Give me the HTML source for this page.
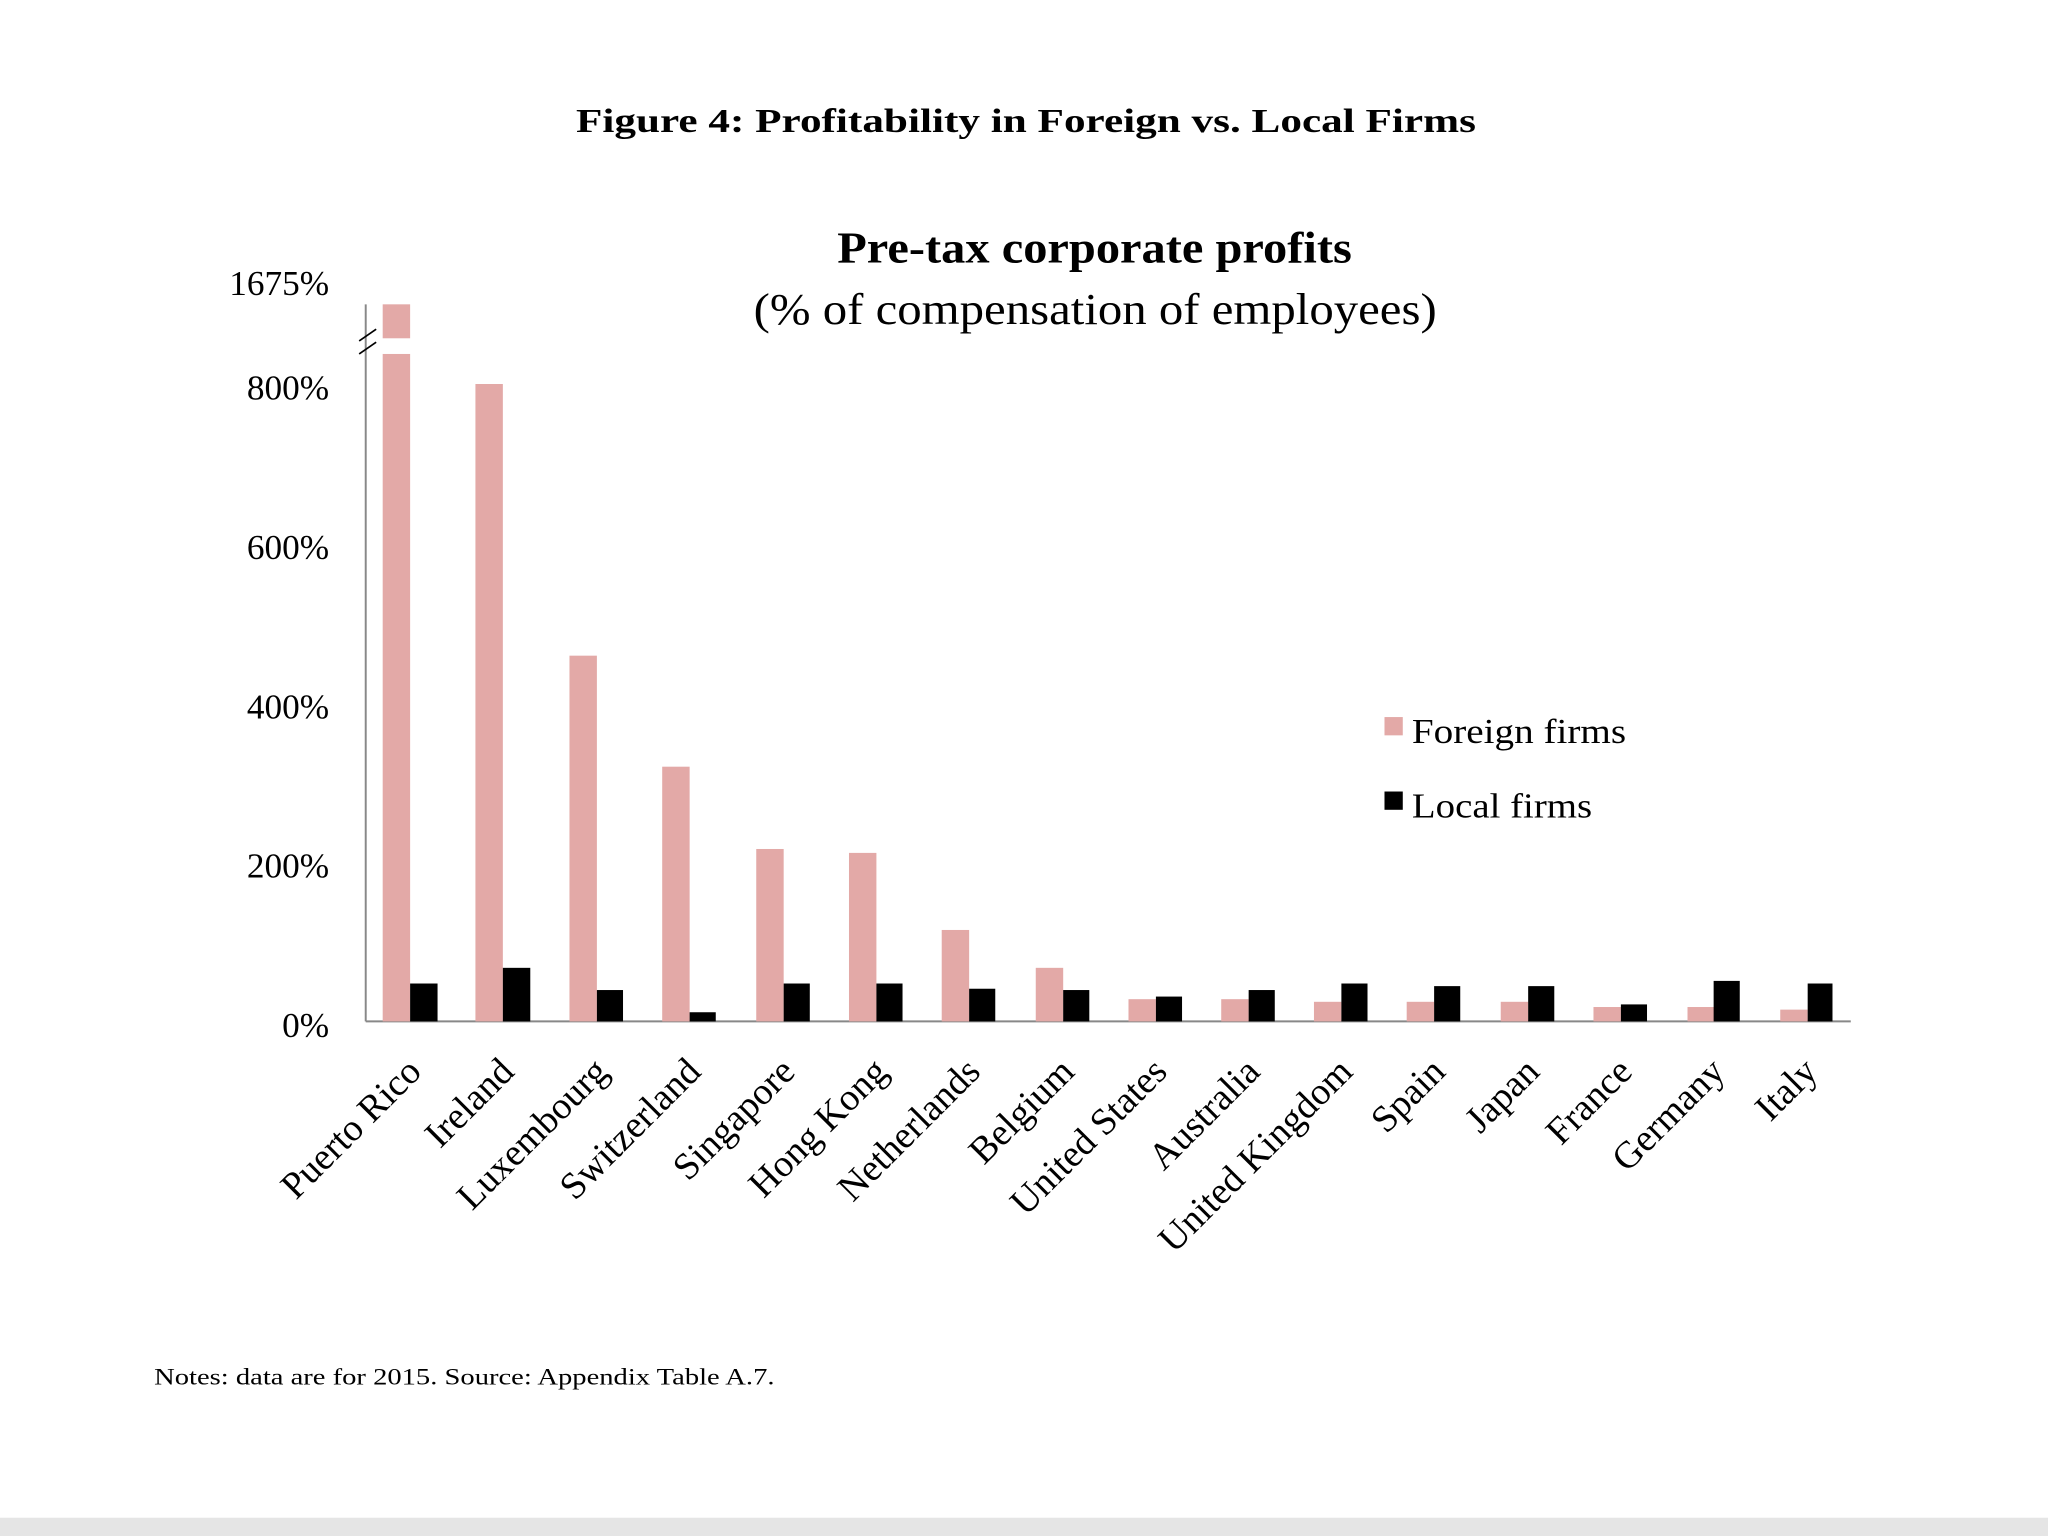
<!DOCTYPE html>
<html><head><meta charset="utf-8"><style>
html,body{margin:0;padding:0;background:#fff;}
svg{display:block;}
text{font-family:"Liberation Serif",serif;fill:#000;}
</style></head><body>
<svg width="2048" height="1536" viewBox="0 0 1568 1176" xmlns="http://www.w3.org/2000/svg">
<rect x="0" y="0" width="1568" height="1176" fill="#fff"/>
<rect x="0" y="1162" width="1568" height="14" fill="#e5e5e5"/>
<text x="441" y="101" font-size="26" font-weight="bold" textLength="689" lengthAdjust="spacingAndGlyphs">Figure 4: Profitability in Foreign vs. Local Firms</text>
<text x="641" y="201" font-size="34" font-weight="bold" textLength="394" lengthAdjust="spacingAndGlyphs">Pre-tax corporate profits</text>
<text x="577" y="248" font-size="34" textLength="523" lengthAdjust="spacingAndGlyphs">(% of compensation of employees)</text>
<g font-size="27" text-anchor="end">
<text x="252" y="226">1675%</text>
<text x="252" y="306">800%</text>
<text x="252" y="428">600%</text>
<text x="252" y="550">400%</text>
<text x="252" y="672">200%</text>
<text x="252" y="794">0%</text>
</g>
<line x1="280" y1="233" x2="280" y2="782" stroke="#888" stroke-width="1.5"/>
<line x1="280" y1="782" x2="1417" y2="782" stroke="#888" stroke-width="1.5"/>
<line x1="275" y1="261" x2="288" y2="252" stroke="#000" stroke-width="1.3"/>
<line x1="275" y1="271" x2="288" y2="262" stroke="#000" stroke-width="1.3"/>
<g fill="#e3a9a7">
<rect x="293" y="233" width="21" height="26"/>
<rect x="293" y="271" width="21" height="511"/>
<rect x="364" y="294" width="21" height="488"/>
<rect x="436" y="502" width="21" height="280"/>
<rect x="507" y="587" width="21" height="195"/>
<rect x="579" y="650" width="21" height="132"/>
<rect x="650" y="653" width="21" height="129"/>
<rect x="721" y="712" width="21" height="70"/>
<rect x="793" y="741" width="21" height="41"/>
<rect x="864" y="765" width="21" height="17"/>
<rect x="935" y="765" width="21" height="17"/>
<rect x="1006" y="767" width="21" height="15"/>
<rect x="1077" y="767" width="21" height="15"/>
<rect x="1149" y="767" width="21" height="15"/>
<rect x="1220" y="771" width="21" height="11"/>
<rect x="1292" y="771" width="21" height="11"/>
<rect x="1363" y="773" width="21" height="9"/>
</g>
<g fill="#000">
<rect x="314" y="753" width="21" height="29"/>
<rect x="385" y="741" width="21" height="41"/>
<rect x="457" y="758" width="20" height="24"/>
<rect x="528" y="775" width="20" height="7"/>
<rect x="600" y="753" width="20" height="29"/>
<rect x="671" y="753" width="20" height="29"/>
<rect x="742" y="757" width="20" height="25"/>
<rect x="814" y="758" width="20" height="24"/>
<rect x="885" y="763" width="20" height="19"/>
<rect x="956" y="758" width="20" height="24"/>
<rect x="1027" y="753" width="20" height="29"/>
<rect x="1098" y="755" width="20" height="27"/>
<rect x="1170" y="755" width="20" height="27"/>
<rect x="1241" y="769" width="20" height="13"/>
<rect x="1312" y="751" width="20" height="31"/>
<rect x="1384" y="753" width="19" height="29"/>
</g>
<rect x="1060" y="549" width="14" height="14" fill="#e3a9a7"/>
<rect x="1060" y="606" width="14" height="14" fill="#000"/>
<text x="1081" y="569" font-size="27" textLength="164" lengthAdjust="spacingAndGlyphs">Foreign firms</text>
<text x="1081" y="626" font-size="27" textLength="138" lengthAdjust="spacingAndGlyphs">Local firms</text>
<g font-size="29" text-anchor="end">
<text transform="translate(324,822) rotate(-45)">Puerto Rico</text>
<text transform="translate(395,822) rotate(-45)">Ireland</text>
<text transform="translate(467,822) rotate(-45)">Luxembourg</text>
<text transform="translate(538,822) rotate(-45)">Switzerland</text>
<text transform="translate(610,822) rotate(-45)">Singapore</text>
<text transform="translate(681,822) rotate(-45)">Hong Kong</text>
<text transform="translate(752,822) rotate(-45)">Netherlands</text>
<text transform="translate(824,822) rotate(-45)">Belgium</text>
<text transform="translate(895,822) rotate(-45)">United States</text>
<text transform="translate(966,822) rotate(-45)">Australia</text>
<text transform="translate(1037,822) rotate(-45)">United Kingdom</text>
<text transform="translate(1108,822) rotate(-45)">Spain</text>
<text transform="translate(1180,822) rotate(-45)">Japan</text>
<text transform="translate(1251,822) rotate(-45)">France</text>
<text transform="translate(1322,822) rotate(-45)">Germany</text>
<text transform="translate(1393,822) rotate(-45)">Italy</text>
</g>
<text x="118" y="1060" font-size="18" textLength="475" lengthAdjust="spacingAndGlyphs">Notes: data are for 2015. Source: Appendix Table A.7.</text>
</svg>
</body></html>
